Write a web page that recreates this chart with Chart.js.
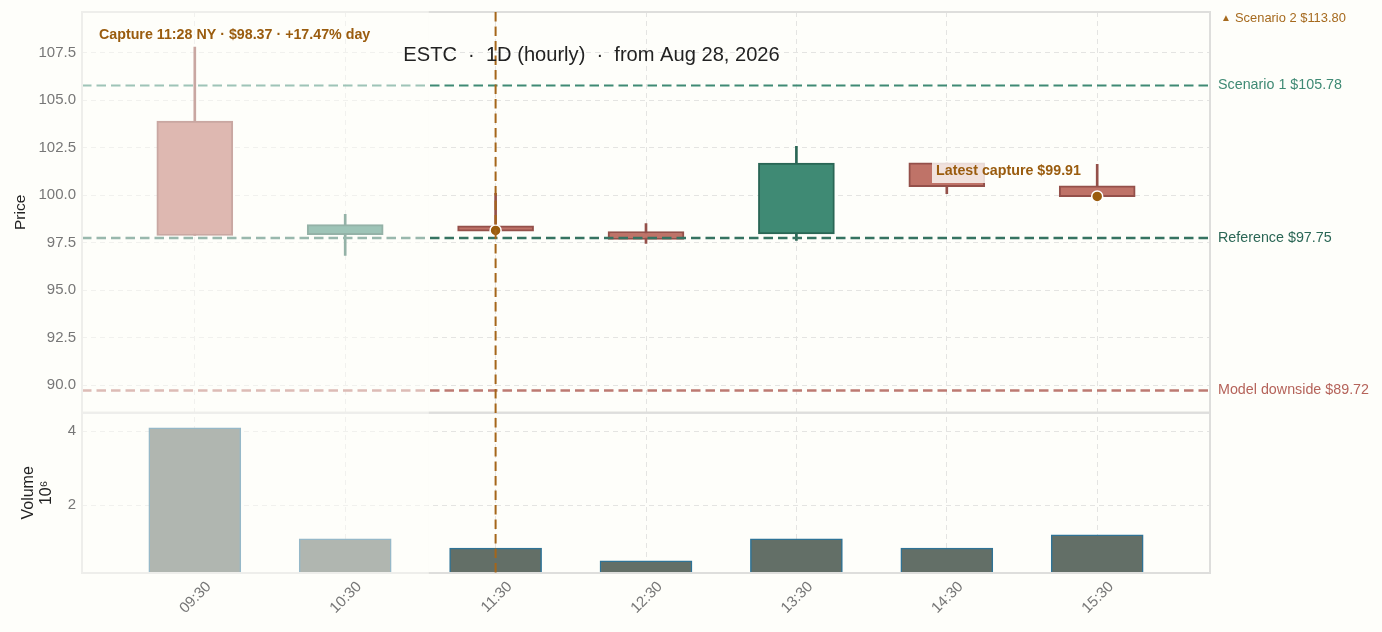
<!DOCTYPE html>
<html>
<head>
<meta charset="utf-8">
<title>ESTC</title>
<script src="https://cdn.jsdelivr.net/npm/chart.js@4/dist/chart.umd.min.js"></script>
<style>
  html, body { margin: 0; padding: 0; background: #fefefa; }
  canvas { display: block; }
</style>
</head>
<body>
<canvas id="chart" width="1382" height="632"></canvas>
<script>
// Valeurs
const times = ["09:30", "10:30", "11:30", "12:30", "13:30", "14:30", "15:30"];
const opens = [103.9, 97.92, 98.39, 98.09, 97.96, 101.71, 100.5];
const closes = [97.88, 98.45, 98.11, 97.67, 101.7, 100.45, 99.92];
const highs = [107.8, 98.99, 100.1, 98.51, 102.58, 101.71, 101.63];
const lows = [97.88, 96.83, 98.11, 97.46, 97.62, 100.08, 99.92];
const volumes = [4.09, 1.09, 0.84, 0.5, 1.09, 0.84, 1.2];

const priceTicks = [90, 92.5, 95, 97.5, 100, 102.5, 105, 107.5];
const volumeTicks = [2, 4];

const scenario1 = 105.78;
const reference = 97.75;
const downside = 89.72;
const captureIndex = [2, 6];
const capturePrice = [98.15, 99.94];

const GREEN = "#3f8a74", GREEN_DARK = "#2a6655";
const RED = "#bf7368", RED_DARK = "#94504a";
const AMBER = "#9a5c0e";
const FONT = '"Liberation Sans", Arial, sans-serif';

const xMin = -0.75, xMax = 6.75;
const pastEnd = 1.556; // fin de la zone estompée (avant la capture)
const volumeMin = 0.17;

function isUp(i) { return closes[i] >= opens[i]; }

function hline(value, color, width) {
    return {
        type: "line",
        data: [{ x: xMin, y: value }, { x: xMax, y: value }],
        yAxisID: "y",
        borderColor: color,
        borderWidth: width,
        borderDash: [9.5, 5],
        pointRadius: 0,
        order: 1
    };
}

// La hauteur des libellés ne doit pas décaler le haut du panneau
function fitLeftAxis(scale) {
    scale.width = 82;
    scale.paddingTop = 0;
    scale.paddingBottom = 0;
}

// Cadre, zone estompée, ligne de capture et textes
const overlay = {
    id: "overlay",
    afterDatasetsDraw(chart) {
        const ctx = chart.ctx;
        const x = chart.scales.x, y = chart.scales.y, v = chart.scales.yVol;
        ctx.save();

        // cadre des deux panneaux
        ctx.strokeStyle = "#dededc";
        ctx.lineWidth = 2;
        ctx.strokeRect(x.left, y.top, x.right - x.left, y.bottom - y.top);
        ctx.strokeRect(x.left, v.top, x.right - x.left, v.bottom - v.top);

        // ligne verticale de capture
        ctx.strokeStyle = "#a5661a";
        ctx.lineWidth = 2;
        ctx.setLineDash([9.5, 5]);
        ctx.beginPath();
        ctx.moveTo(x.getPixelForValue(captureIndex[0]), y.top);
        ctx.lineTo(x.getPixelForValue(captureIndex[0]), v.bottom);
        ctx.stroke();
        ctx.setLineDash([]);

        // tout ce qui précède la capture est estompé
        ctx.fillStyle = "rgba(254, 254, 250, 0.5)";
        const endX = x.getPixelForValue(pastEnd);
        ctx.fillRect(x.left - 1, y.top - 1, endX - x.left + 1, v.bottom - y.top + 2);

        // titre
        ctx.textBaseline = "middle";
        ctx.textAlign = "center";
        ctx.fillStyle = "#222222";
        ctx.font = "20.1px " + FONT;
        ctx.fillText("ESTC  \u00b7  1D (hourly)  \u00b7  from Aug 28, 2026", 591.5, 55);

        // annotations
        ctx.textAlign = "left";
        ctx.font = "bold 14.25px " + FONT;
        ctx.fillStyle = AMBER;
        ctx.fillText("Capture 11:28 NY \u00b7 $98.37 \u00b7 +17.47% day", 99, 35);

        ctx.fillStyle = "rgba(254, 254, 250, 0.8)";
        ctx.fillRect(932, 162, 155, 21);
        ctx.fillStyle = AMBER;
        ctx.fillText("Latest capture $99.91", 936, 171.5);

        // étiquettes à droite
        const labelX = x.right + 8;
        ctx.font = "14.3px " + FONT;
        ctx.fillStyle = "#3f8a74";
        ctx.fillText("Scenario 1 $105.78", labelX, y.getPixelForValue(scenario1));
        ctx.fillStyle = "#2a6655";
        ctx.fillText("Reference $97.75", labelX, y.getPixelForValue(reference));
        ctx.fillStyle = "#b5635a";
        ctx.fillText("Model downside $89.72", labelX, y.getPixelForValue(downside));
        ctx.fillStyle = "#a66a1e";
        ctx.font = "10px " + FONT;
        ctx.fillText("\u25B2", labelX + 3, 18);
        ctx.font = "12.9px " + FONT;
        ctx.fillText("Scenario 2 $113.80", labelX + 17, 18);
        ctx.restore();
    }
};

new Chart(document.getElementById("chart"), {
    data: {
        datasets: [
            {
                type: "bar",
                data: times.map((t, i) => ({ x: i, y: [lows[i], highs[i]] })),
                yAxisID: "y",
                grouped: false,
                barThickness: 2,
                backgroundColor: times.map((t, i) => isUp(i) ? GREEN_DARK : RED_DARK),
                order: 4
            },
            {
                type: "bar",
                data: times.map((t, i) => ({ x: i, y: [opens[i], closes[i]] })),
                yAxisID: "y",
                grouped: false,
                barThickness: 76,
                backgroundColor: times.map((t, i) => isUp(i) ? GREEN : RED),
                borderColor: times.map((t, i) => isUp(i) ? GREEN_DARK : RED_DARK),
                borderWidth: 2,
                borderSkipped: false,
                order: 3
            },
            {
                type: "bar",
                data: times.map((t, i) => ({ x: i, y: volumes[i] })),
                yAxisID: "yVol",
                grouped: false,
                barThickness: 92,
                base: volumeMin,
                backgroundColor: "#636f67",
                borderColor: "#2f7396",
                borderWidth: 1.5,
                order: 3
            },
            hline(scenario1, "#3f8a74", 1.8),
            hline(reference, "#357361", 2.4),
            hline(downside, "#bd7a72", 2.4),
            {
                type: "line",
                data: captureIndex.map((c, i) => ({ x: c, y: capturePrice[i] })),
                yAxisID: "y",
                showLine: false,
                pointRadius: 5.5,
                pointBackgroundColor: AMBER,
                pointBorderColor: "#ffffff",
                pointBorderWidth: 1.5,
                order: 0
            }
        ]
    },
    options: {
        responsive: false,
        animation: false,
        events: [],
        layout: { padding: { top: 12, right: 172, bottom: 0, left: 0 } },
        plugins: { legend: { display: false }, tooltip: { enabled: false } },
        scales: {
            x: {
                type: "linear",
                offset: false,
                min: xMin,
                max: xMax,
                afterBuildTicks(scale) { scale.ticks = times.map((t, i) => ({ value: i })); },
                afterFit(scale) { scale.height = 59; },
                grid: { color: "#e4e4e2", drawTicks: false, offset: false },
                border: { display: false, dash: [5, 4] },
                ticks: {
                    color: "#777777",
                    font: { family: FONT, size: 15 },
                    maxRotation: 45,
                    minRotation: 45,
                    padding: 5,
                    labelOffset: 14,
                    callback: (value) => times[value]
                }
            },
            y: {
                type: "linear",
                position: "left",
                stack: "panels",
                stackWeight: 2.5,
                weight: 2,
                min: 88.55,
                max: 109.65,
                afterBuildTicks(scale) { scale.ticks = priceTicks.map((value) => ({ value })); },
                afterFit: fitLeftAxis,
                title: {
                    display: true,
                    text: "Price",
                    color: "#222222",
                    font: { family: FONT, size: 15.5 },
                    padding: { top: 11, bottom: 0 }
                },
                grid: { color: "#e4e4e2", drawTicks: false },
                border: { display: false, dash: [5, 4] },
                ticks: {
                    color: "#777777",
                    font: { family: FONT, size: 15 },
                    padding: 6,
                    callback: (value) => value.toFixed(1)
                }
            },
            yVol: {
                type: "linear",
                position: "left",
                stack: "panels",
                stackWeight: 1,
                weight: 1,
                min: volumeMin,
                max: 4.5,
                afterBuildTicks(scale) { scale.ticks = volumeTicks.map((value) => ({ value })); },
                afterFit: fitLeftAxis,
                title: {
                    display: true,
                    text: ["Volume", "10\u2076"],
                    color: "#222222",
                    font: { family: FONT, size: 16, lineHeight: 1.1 },
                    padding: { top: 20, bottom: 0 }
                },
                grid: { color: "#e4e4e2", drawTicks: false },
                border: { display: false, dash: [5, 4] },
                ticks: {
                    color: "#777777",
                    font: { family: FONT, size: 15 },
                    padding: 6,
                    callback: (value) => String(value)
                }
            }
        }
    },
    plugins: [overlay]
});
</script>
</body>
</html>
